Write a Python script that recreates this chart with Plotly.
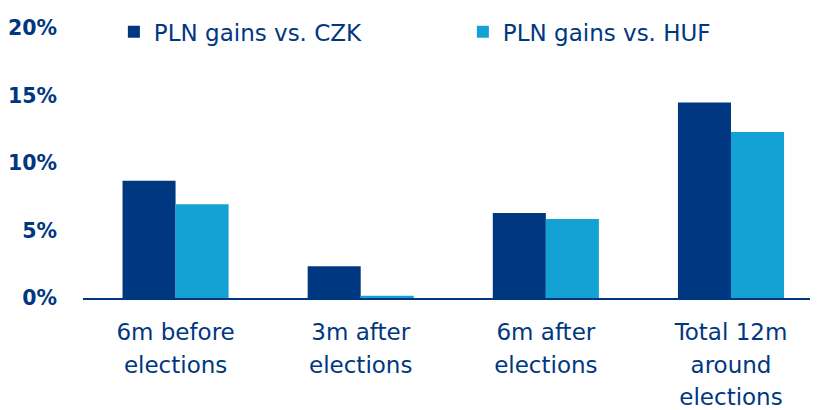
import plotly.graph_objects as go

categories = ["6m before<br>elections", "3m after<br>elections", "6m after<br>elections", "Total 12m<br>around<br>elections"]
czk_values = [8.7, 2.35, 6.3, 14.5]
huf_values = [6.95, 0.17, 5.85, 12.3]
series_names = ["PLN gains vs. CZK", "PLN gains vs. HUF"]
tick_values = [0, 5, 10, 15, 20]
tick_labels = ["0%", "5%", "10%", "15%", "20%"]

NAVY = "#003781"
LIGHT = "#14A2D5"
FONT = "DejaVu Sans"

SPAN = "<span style='font-size:23px'>"
cat_text = [SPAN + c.replace("<br>", "</span><br>" + SPAN) + "</span>" for c in categories]

fig = go.Figure()
fig.add_trace(go.Bar(x=cat_text, y=czk_values, name=series_names[0], marker=dict(color=NAVY, line=dict(width=0))))
fig.add_trace(go.Bar(x=cat_text, y=huf_values, name=series_names[1], marker=dict(color=LIGHT, line=dict(width=0))))

# page body has an 8px margin, so the figure is 8px smaller than the window
fig.update_layout(
    width=810, height=402,
    margin=dict(l=75, r=0, t=0, b=112, autoexpand=False),
    paper_bgcolor="white", plot_bgcolor="white",
    barmode="group", bargap=0.427, bargroupgap=0,
    font=dict(family=FONT, color=NAVY, size=20),
    legend=dict(
        orientation="h", x=0.042, y=0.918, xanchor="left", yanchor="middle",
        font=dict(family=FONT, size=23, color=NAVY),
        entrywidth=304, entrywidthmode="pixels",
        bgcolor="rgba(0,0,0,0)", borderwidth=0,
    ),
    showlegend=True,
)
fig.update_xaxes(
    range=[-0.5, 3.47],
    showline=True, linecolor=NAVY, linewidth=2,
    showgrid=False, ticks="", zeroline=False,
    tickfont=dict(family=FONT, size=25, color=NAVY),
    ticklabelstandoff=10,
)
fig.update_yaxes(
    range=[0, 21.5], tickvals=tick_values, ticktext=tick_labels,
    showgrid=False, zeroline=False, showline=False, ticks="",
    ticklabelstandoff=25,
    tickfont=dict(family=FONT, size=20.5, color=NAVY, weight="bold"),
)

fig.write_html("out.html")
